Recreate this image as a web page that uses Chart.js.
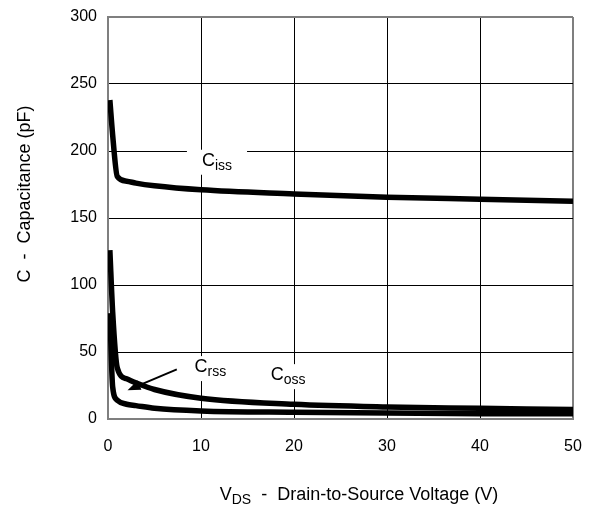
<!DOCTYPE html>
<html>
<head>
<meta charset="utf-8">
<script src="https://cdn.jsdelivr.net/npm/chart.js@4/dist/chart.umd.min.js"></script>
<style>
    body { margin: 0; background: #ffffff; }
    #capChart { display: block; }
</style>
</head>
<body>
<canvas id="capChart" width="593" height="507"></canvas>
<script>
// drain-source voltage points (V) shared by all three curves
const vds = [0.2, 0.5, 1, 2, 3, 5, 10, 20, 30, 40, 50];

// capacitances in pF
const ciss = [238, 212, 181, 177.5, 176, 174, 171, 168, 165.5, 164, 162.5];
const coss = [126, 80, 38, 30, 27, 22, 15.5, 11, 9, 8, 7];
const crss = [79, 24, 14, 11, 10, 8, 6, 5, 4.5, 4, 4];

const xTicks = [0, 10, 20, 30, 40, 50];
const yTicks = [0, 50, 100, 150, 200, 250, 300];

// curve labels: main letter, subscript, anchor point in data units
const curveLabels = [
    { main: "C", sub: "iss", x: 10.1, y: 189 },
    { main: "C", sub: "rss", x: 9.3, y: 35 },
    { main: "C", sub: "oss", x: 17.5, y: 29 }
];

// arrow pointing at the Crss curve, in data units
const arrowFrom = { x: 7.4, y: 37 };
const arrowTo = { x: 2.1, y: 21.5 };

const FONT = "'Liberation Sans', Arial, sans-serif";
const FRAME = "#7f7f7f";

const toPoints = (ys) => {
    const pts = [];
    for (let i = 0; i < vds.length; i++) {
        pts.push({ x: vds[i], y: ys[i] });
    }
    return pts;
};

const curve = (label, ys) => {
    return {
        label: label,
        data: toPoints(ys),
        borderColor: "#000000",
        borderWidth: 5.5,
        pointRadius: 0,
        fill: false,
        cubicInterpolationMode: "monotone",
        borderCapStyle: "butt",
        borderJoinStyle: "round"
    };
};

// white boxes behind the curve labels, drawn over the grid
const labelBoxes = {
    id: "labelBoxes",
    beforeDatasetsDraw(chart) {
        const ctx = chart.ctx;
        const xs = chart.scales.x;
        const ys = chart.scales.y;
        ctx.save();
        ctx.fillStyle = "#ffffff";
        for (let lab of curveLabels) {
            const px = xs.getPixelForValue(lab.x);
            const py = ys.getPixelForValue(lab.y);
            ctx.font = "18px " + FONT;
            const w1 = ctx.measureText(lab.main).width;
            ctx.font = "14px " + FONT;
            const w2 = ctx.measureText(lab.sub).width;
            ctx.fillRect(px - 15, py - 16, w1 + w2 + 30, 25);
        }
        ctx.restore();
    }
};

// curve labels, the Crss arrow and both axis titles
const annotations = {
    id: "annotations",
    afterDraw(chart) {
        const ctx = chart.ctx;
        const xs = chart.scales.x;
        const ys = chart.scales.y;
        ctx.save();
        ctx.fillStyle = "#000000";
        ctx.textBaseline = "alphabetic";
        ctx.textAlign = "left";

        for (let lab of curveLabels) {
            const px = xs.getPixelForValue(lab.x);
            const py = ys.getPixelForValue(lab.y);
            ctx.font = "18px " + FONT;
            ctx.fillText(lab.main, px, py);
            const w1 = ctx.measureText(lab.main).width;
            ctx.font = "14px " + FONT;
            ctx.fillText(lab.sub, px + w1, py + 4);
        }

        // arrow
        const x1 = xs.getPixelForValue(arrowFrom.x);
        const y1 = ys.getPixelForValue(arrowFrom.y);
        const x2 = xs.getPixelForValue(arrowTo.x);
        const y2 = ys.getPixelForValue(arrowTo.y);
        const ang = Math.atan2(y2 - y1, x2 - x1);
        const headLen = 13;
        const headW = 5;
        const bx = x2 - headLen * Math.cos(ang);
        const by = y2 - headLen * Math.sin(ang);
        ctx.strokeStyle = "#000000";
        ctx.lineWidth = 2;
        ctx.beginPath();
        ctx.moveTo(x1, y1);
        ctx.lineTo(bx, by);
        ctx.stroke();
        ctx.beginPath();
        ctx.moveTo(x2, y2);
        ctx.lineTo(bx + headW * Math.sin(ang), by - headW * Math.cos(ang));
        ctx.lineTo(bx - headW * Math.sin(ang), by + headW * Math.cos(ang));
        ctx.closePath();
        ctx.fill();

        // x axis title with subscript
        ctx.font = "18px " + FONT;
        const partV = "V";
        const partRest = "  -  Drain-to-Source Voltage (V)";
        const wV = ctx.measureText(partV).width;
        const wRest = ctx.measureText(partRest).width;
        ctx.font = "14px " + FONT;
        const wDS = ctx.measureText("DS").width;
        const total = wV + wDS + wRest;
        const tx = 359 - total / 2;
        const ty = 500;
        ctx.font = "18px " + FONT;
        ctx.fillText(partV, tx, ty);
        ctx.font = "14px " + FONT;
        ctx.fillText("DS", tx + wV, ty + 4);
        ctx.font = "18px " + FONT;
        ctx.fillText(partRest, tx + wV + wDS, ty);

        // y axis title
        ctx.translate(30, 194);
        ctx.rotate(-Math.PI / 2);
        ctx.textAlign = "center";
        ctx.font = "18px " + FONT;
        ctx.fillText("C  -  Capacitance (pF)", 0, 0);
        ctx.restore();
    }
};

const edgeColor = (context, lastIndex) => {
    return context.index === lastIndex ? FRAME : "#000000";
};

new Chart(document.querySelector("#capChart"), {
    type: "line",
    data: {
        datasets: [
            curve("Ciss", ciss),
            curve("Coss", coss),
            curve("Crss", crss)
        ]
    },
    options: {
        responsive: false,
        animation: false,
        events: [],
        layout: {
            padding: { top: 17, right: 20, left: 0, bottom: 0 }
        },
        plugins: {
            legend: { display: false },
            tooltip: { enabled: false }
        },
        scales: {
            x: {
                type: "linear",
                min: 0,
                max: 50,
                afterBuildTicks(scale) {
                    scale.ticks = xTicks.map((v) => ({ value: v }));
                },
                afterFit(scale) {
                    scale.height = 88;
                    scale.paddingLeft = 0;
                    scale.paddingRight = 0;
                },
                grid: {
                    drawTicks: false,
                    color: (c) => edgeColor(c, xTicks.length - 1),
                    lineWidth: (c) => (c.index === xTicks.length - 1 ? 2 : 1)
                },
                border: { color: FRAME, width: 2 },
                ticks: {
                    padding: 18,
                    color: "#000000",
                    font: { family: FONT, size: 16 }
                }
            },
            y: {
                min: 0,
                max: 300,
                afterBuildTicks(scale) {
                    scale.ticks = yTicks.map((v) => ({ value: v }));
                },
                afterFit(scale) {
                    scale.width = 108;
                    scale.paddingTop = 0;
                    scale.paddingBottom = 0;
                },
                grid: {
                    drawTicks: false,
                    color: (c) => edgeColor(c, yTicks.length - 1),
                    lineWidth: (c) => (c.index === yTicks.length - 1 ? 2 : 1)
                },
                border: { color: FRAME, width: 2 },
                ticks: {
                    padding: 11,
                    color: "#000000",
                    font: { family: FONT, size: 16 }
                }
            }
        }
    },
    plugins: [labelBoxes, annotations]
});
</script>
</body>
</html>
